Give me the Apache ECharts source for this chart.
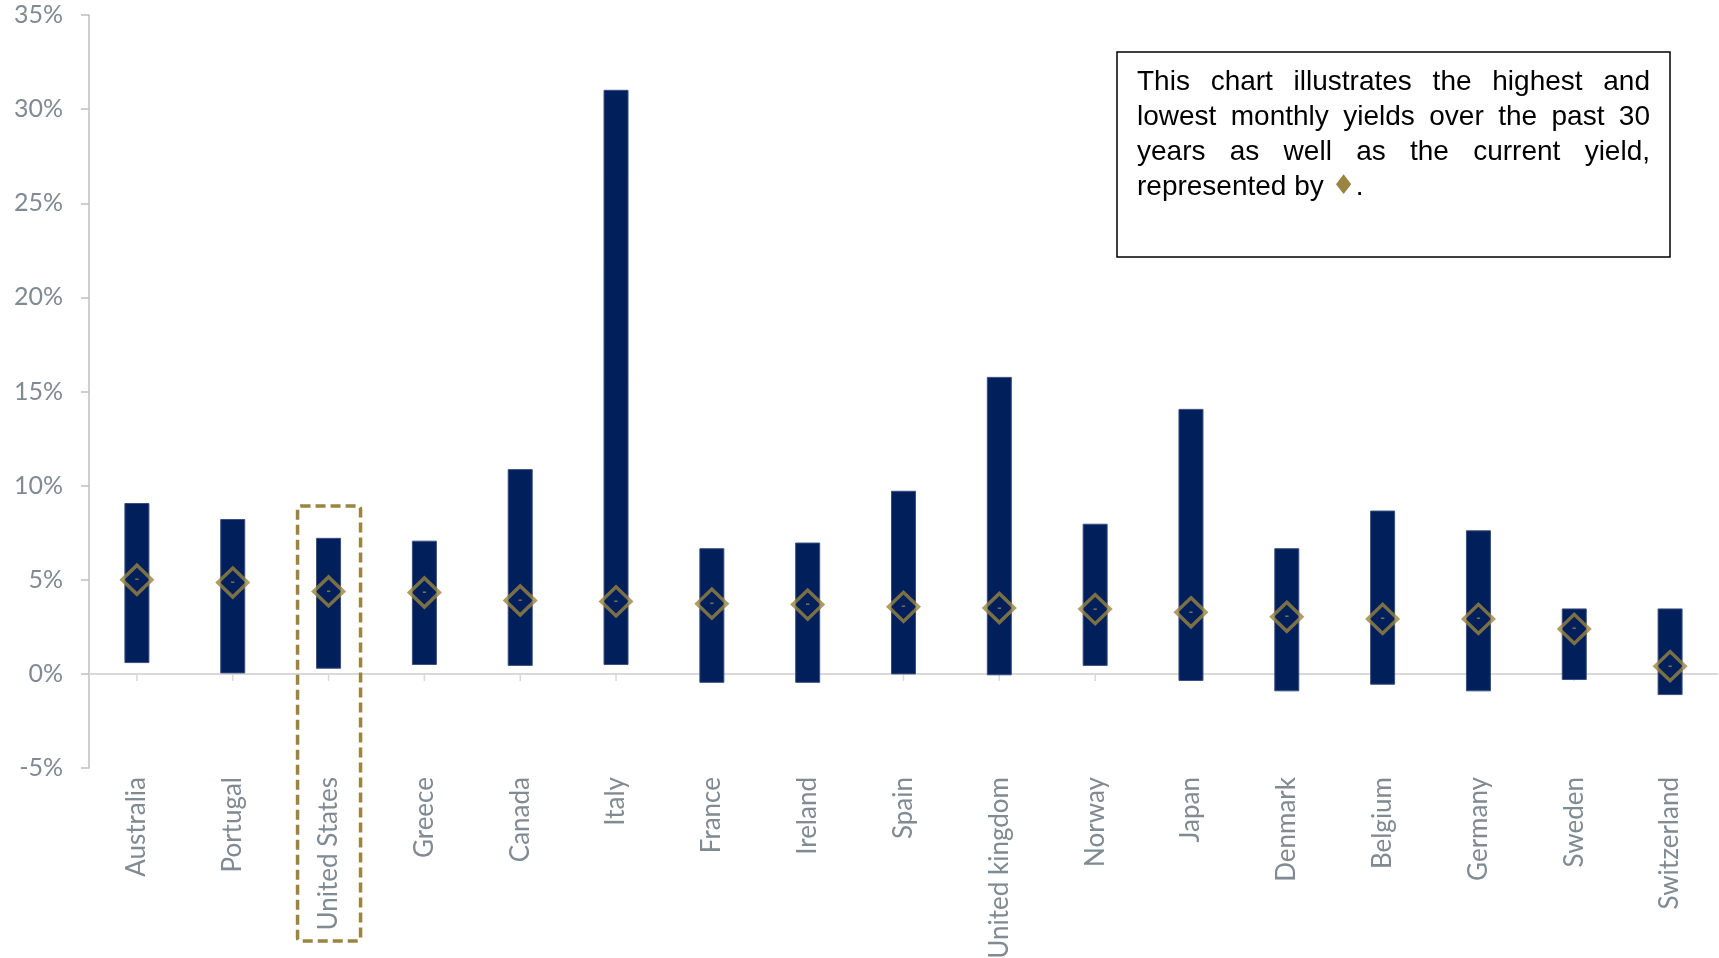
<!DOCTYPE html>
<html>
<head>
<meta charset="utf-8">
<script src="https://cdn.jsdelivr.net/npm/echarts@6/dist/echarts.min.js"></script>
<style>
html, body { margin: 0; padding: 0; background: #fff; }
#main { width: 1719px; height: 958px; }
</style>
</head>
<body>
<div id="main"></div>
<script>
// data (%)
var countries = ['Australia', 'Portugal', 'United States', 'Greece', 'Canada', 'Italy', 'France', 'Ireland', 'Spain',
  'United kingdom', 'Norway', 'Japan', 'Denmark', 'Belgium', 'Germany', 'Sweden', 'Switzerland'];
var highYield = [9.05, 8.2, 7.2, 7.05, 10.85, 31.0, 6.65, 6.95, 9.7, 15.75, 7.95, 14.05, 6.65, 8.65, 7.6, 3.45, 3.45];
var lowYield = [0.6, 0.05, 0.3, 0.5, 0.45, 0.5, -0.45, -0.45, 0.0, -0.05, 0.45, -0.35, -0.9, -0.55, -0.9, -0.3, -1.1];
var currentYield = [5.0, 4.85, 4.38, 4.32, 3.9, 3.85, 3.73, 3.68, 3.56, 3.5, 3.44, 3.27, 3.03, 2.92, 2.92, 2.39, 0.41];

var noteLines = ['This chart illustrates the highest and', 'lowest monthly yields over the past 30',
  'years as well as the current yield,'];

var navy = '#001F5B';
var gold = '#9A8440';
var labelGray = '#7F8A92';

var chart = echarts.init(document.getElementById('main'));

var rangeData = countries.map(function (c, i) {
  return [i, lowYield[i], highYield[i]];
});
var tickData = countries.map(function (c, i) {
  return [i, 0];
});

option = {
  backgroundColor: '#FFFFFF',
  animation: false,
  grid: {
    left: 89,
    right: 1,
    top: 15,
    bottom: 190,
    containLabel: false,
    outerBoundsMode: 'none'
  },
  xAxis: {
    type: 'category',
    data: countries,
    axisLine: { show: false, onZero: false },
    axisTick: { show: false },
    axisLabel: {
      rotate: 90,
      margin: 9,
      interval: 0,
      color: labelGray,
      fontFamily: 'Lato',
      fontSize: 26
    }
  },
  yAxis: {
    type: 'value',
    min: -5,
    max: 35,
    interval: 5,
    splitLine: { show: false },
    axisLine: { show: true, lineStyle: { color: '#BFBFBF', width: 1.5 } },
    axisTick: { show: true, length: 8, lineStyle: { color: '#BFBFBF', width: 1.5 } },
    axisLabel: {
      formatter: '{value}%',
      margin: 26,
      color: labelGray,
      fontFamily: 'Lato',
      fontSize: 25
    }
  },
  series: [
    {
      // 0% line plus the little ticks hanging under it
      type: 'custom',
      z: 1,
      data: tickData,
      renderItem: function (params, api) {
        var p = api.coord([api.value(0), api.value(1)]);
        var children = [{
          type: 'line',
          shape: { x1: p[0], y1: p[1], x2: p[0], y2: p[1] + 7 },
          style: { stroke: '#D9D9D9', lineWidth: 1.5 }
        }];
        if (params.dataIndex === 0) {
          var cs = params.coordSys;
          children.push({
            type: 'line',
            shape: { x1: cs.x, y1: p[1], x2: cs.x + cs.width, y2: p[1] },
            style: { stroke: '#D9D9D9', lineWidth: 2 }
          });
        }
        return { type: 'group', children: children };
      }
    },
    {
      name: 'Range',
      type: 'custom',
      z: 3,
      data: rangeData,
      encode: { x: 0, y: [1, 2] },
      renderItem: function (params, api) {
        var lo = api.coord([api.value(0), api.value(1)]);
        var hi = api.coord([api.value(0), api.value(2)]);
        var w = 24;
        return {
          type: 'rect',
          shape: { x: lo[0] - w / 2, y: hi[1], width: w, height: lo[1] - hi[1] },
          style: { fill: navy, stroke: '#3B4F80', lineWidth: 1 }
        };
      }
    },
    {
      name: 'Current',
      type: 'scatter',
      z: 5,
      data: currentYield,
      symbol: 'diamond',
      symbolSize: [30, 29],
      itemStyle: { color: 'rgba(0,0,0,0)', borderColor: gold, borderWidth: 3.5 },
      label: {
        show: true,
        position: 'inside',
        formatter: '-',
        color: gold,
        fontSize: 13,
        fontWeight: 'bold'
      }
    }
  ]
};
chart.setOption(option);

// note box with justified text
var ctx = document.createElement('canvas').getContext('2d');
var noteFont = '28px "Liberation Sans"';
ctx.font = noteFont;
var boxLeft = 1117, boxTop = 52, boxW = 553, boxH = 205;
var textLeft = 1137, textRight = 1650, lineY = [82, 117, 152, 187];
var graphics = [{
  type: 'rect',
  shape: { x: boxLeft, y: boxTop, width: boxW, height: boxH },
  style: { fill: '#fff', stroke: '#000', lineWidth: 1.5 },
  z: 10
}];
noteLines.forEach(function (line, li) {
  var words = line.split(' ');
  var widths = words.map(function (w) { return ctx.measureText(w).width; });
  var total = widths.reduce(function (a, b) { return a + b; }, 0);
  var gap = (textRight - textLeft - total) / (words.length - 1);
  var x = textLeft;
  words.forEach(function (w, wi) {
    graphics.push({
      type: 'text',
      x: x,
      y: lineY[li],
      z: 11,
      style: { text: w, font: noteFont, fill: '#000', verticalAlign: 'middle', align: 'left' }
    });
    x += widths[wi] + gap;
  });
});
graphics.push({
  type: 'text',
  x: textLeft,
  y: lineY[3],
  z: 11,
  style: {
    text: '{a|represented by }{d|♦}{a|.}',
    verticalAlign: 'middle',
    rich: {
      a: { font: noteFont, fill: '#000' },
      d: { font: '27px "DejaVu Sans"', fill: gold }
    }
  }
});

// dashed highlight around United States
var usX = chart.convertToPixel({ xAxisIndex: 0 }, 'United States');
graphics.push({
  type: 'rect',
  shape: { x: usX - 31, y: 506, width: 63, height: 435, r: 3 },
  style: { fill: 'none', stroke: gold, lineWidth: 3.5, lineDash: [10, 5] },
  z: 12
});
chart.setOption({ graphic: graphics });

window.addEventListener('resize', function () {
  chart.resize();
});
</script>
</body>
</html>
